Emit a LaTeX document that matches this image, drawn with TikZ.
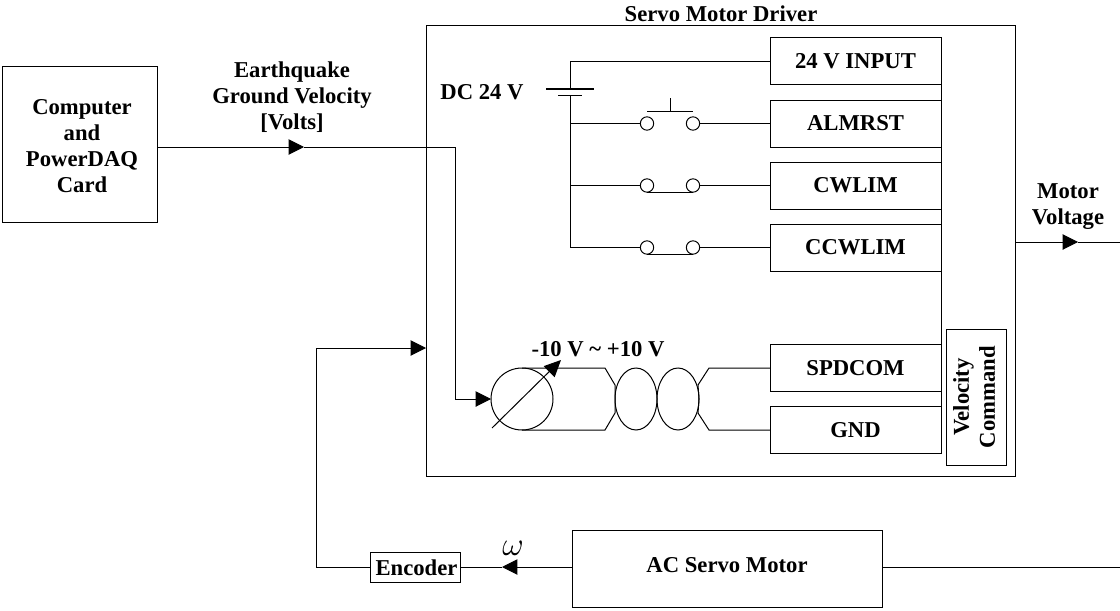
\documentclass[tikz,border=0pt]{standalone}
\usepackage{fontspec}
\setmainfont{Liberation Serif}
\usetikzlibrary{arrows.meta,shapes.geometric}

\tikzset{
    wire/.style={line width=0.75pt},
    sigarrow/.style={wire,-{Triangle[length=11.5pt,width=11.5pt]}},
    label/.style={font=\fontsize{17}{19.5}\selectfont\bfseries,align=center,inner sep=0pt},
    block/.style={draw,line width=0.75pt,inner sep=0pt,outer sep=0pt},
    termbox/.style={label,block,minimum width=128.25pt,minimum height=35.25pt},
    contact/.style={block,circle,minimum size=10pt},
    coil/.style={block,ellipse,minimum width=31.5pt,minimum height=46.5pt}
}

\begin{document}
\begin{tikzpicture}[x=0.75pt,y=-0.75pt]
    % Fix the page size
    \useasboundingbox (0,0) rectangle (1120,610);

    % Draw main blocks
    \node[block,minimum width=116.25pt,minimum height=116.25pt] (pc) at (79.5,144.5) {};
    \node[label] (pctext) at (82,146) {Computer\\and\\PowerDAQ\\Card};
    \node[block,minimum width=441.75pt,minimum height=337.5pt] (driver) at (720.5,251) {};
    \node[label] (drivertext) at (721,14) {Servo Motor Driver};
    \node[block,minimum width=232.5pt,minimum height=57.75pt] (motor) at (727,568.5) {};
    \node[label] (motortext) at (727,565.5) {AC Servo Motor};
    \node[block,minimum width=67.5pt,minimum height=22.5pt] (encoder) at (415,567) {};
    \node[label] (encodertext) at (416.5,568) {Encoder};

    % Draw terminal boxes
    \node[termbox] (input) at (855.5,61.5) {24 V INPUT};
    \node[termbox] (almrst) at (855.5,123.5) {ALMRST};
    \node[termbox] (cwlim) at (855.5,185.5) {CWLIM};
    \node[termbox] (ccwlim) at (855.5,247.5) {CCWLIM};
    \node[termbox] (spdcom) at (855.5,368) {SPDCOM};
    \node[termbox] (gnd) at (855.5,430) {GND};
    \draw[wire] (input.north east) -- (gnd.south east);
    \node[block,minimum width=45pt,minimum height=102pt] (velocity) at (976,397) {};
    \node[label,rotate=90] (velocitytext) at (974,397) {Velocity\\Command};

    % Draw the battery
    \coordinate (plateL) at (546,89);
    \coordinate (plateR) at (594,89);
    \coordinate (plateC) at (570,89);
    \coordinate (shortL) at (558,95);
    \coordinate (shortR) at (582,95);
    \coordinate (shortC) at (570,95);
    \coordinate (busTop) at (570,61.5);
    \draw[wire] (plateL) -- (plateR);
    \draw[wire] (shortL) -- (shortR);
    \draw[wire] (input.west) -- (busTop) -- (plateC);
    \node[label] (dctext) at (482,92) {DC 24 V};

    % Draw the three switches
    \foreach \name/\yy in {almrst/123.5,cwlim/185.5,ccwlim/247.5} {
        \coordinate (\name bus) at (570,\yy);
        \node[contact] (\name a) at (647,\yy) {};
        \node[contact] (\name b) at (693,\yy) {};
        \draw[wire] (\name bus) -- (\name a);
        \draw[wire] (\name b) -- (\name);
    }
    \draw[wire] (shortC) -- (ccwlimbus);

    % Push button on top, closed links below
    \coordinate (pushL) at (647,111);
    \coordinate (pushR) at (693,111);
    \coordinate (pushC) at (670,111);
    \coordinate (pushT) at (670,98);
    \draw[wire] (pushL) -- (pushR);
    \draw[wire] (pushC) -- (pushT);
    \draw[wire] (cwlima.south) -- (cwlimb.south);
    \draw[wire] (ccwlima.south) -- (ccwlimb.south);

    % Draw the meter and the twisted pair
    \node[block,circle,minimum size=46.5pt] (meter) at (522,399) {};
    \node[coil] (coilA) at (636,399) {};
    \node[coil] (coilB) at (678,399) {};
    \coordinate (needleS) at (492,428);
    \coordinate (needleE) at (561,360);
    \draw[wire,-{Triangle[length=12.5pt,width=11.5pt]}] (needleS) -- (needleE);
    \draw[wire] (meter.north) -- (605,368) -- (615,385) -- (coilA.west) -- (615,413) -- (605,430) -- (meter.south);
    \draw[wire] (spdcom.west) -- (709,368) -- (698,385) -- (coilB.east) -- (698,413) -- (709,430) -- (gnd.west);
    \node[label] (rangetext) at (598,349) {-10 V \textasciitilde{} +10 V};

    % Draw signal from the computer
    \coordinate (velArrow) at (304,147);
    \coordinate (velCorner) at (455,147);
    \coordinate (velDown) at (455,399);
    \draw[sigarrow] (pc.east |- velArrow) -- (velArrow);
    \draw[wire] (velArrow) -- (velCorner) -- (velDown);
    \draw[sigarrow] (velDown) -- (meter.west);
    \node[label] (quaketext) at (292,97) {Earthquake\\Ground Velocity\\{[Volts]}};

    % Draw motor voltage
    \coordinate (voltArrow) at (1078,242);
    \coordinate (voltEnd) at (1120,242);
    \draw[sigarrow] (driver.east |- voltArrow) -- (voltArrow);
    \draw[wire] (voltArrow) -- (voltEnd);
    \node[label] (volttext) at (1068,207) {Motor\\Voltage};

    % Draw feedback loop
    \coordinate (motorEnd) at (1120,567);
    \coordinate (encArrow) at (502,567);
    \coordinate (fbCorner) at (316,567);
    \coordinate (fbUp) at (316,348);
    \draw[wire] (motor.east |- motorEnd) -- (motorEnd);
    \draw[sigarrow] (motor.west |- encArrow) -- (encArrow);
    \draw[wire] (encArrow) -- (encoder.east);
    \draw[wire] (encoder.west) -- (fbCorner) -- (fbUp);
    \draw[sigarrow] (fbUp) -- (driver.west |- fbUp);
    \node[inner sep=0pt] (omega) at (513,548) {\fontsize{24}{24}\selectfont$\omega$};
\end{tikzpicture}
\end{document}
